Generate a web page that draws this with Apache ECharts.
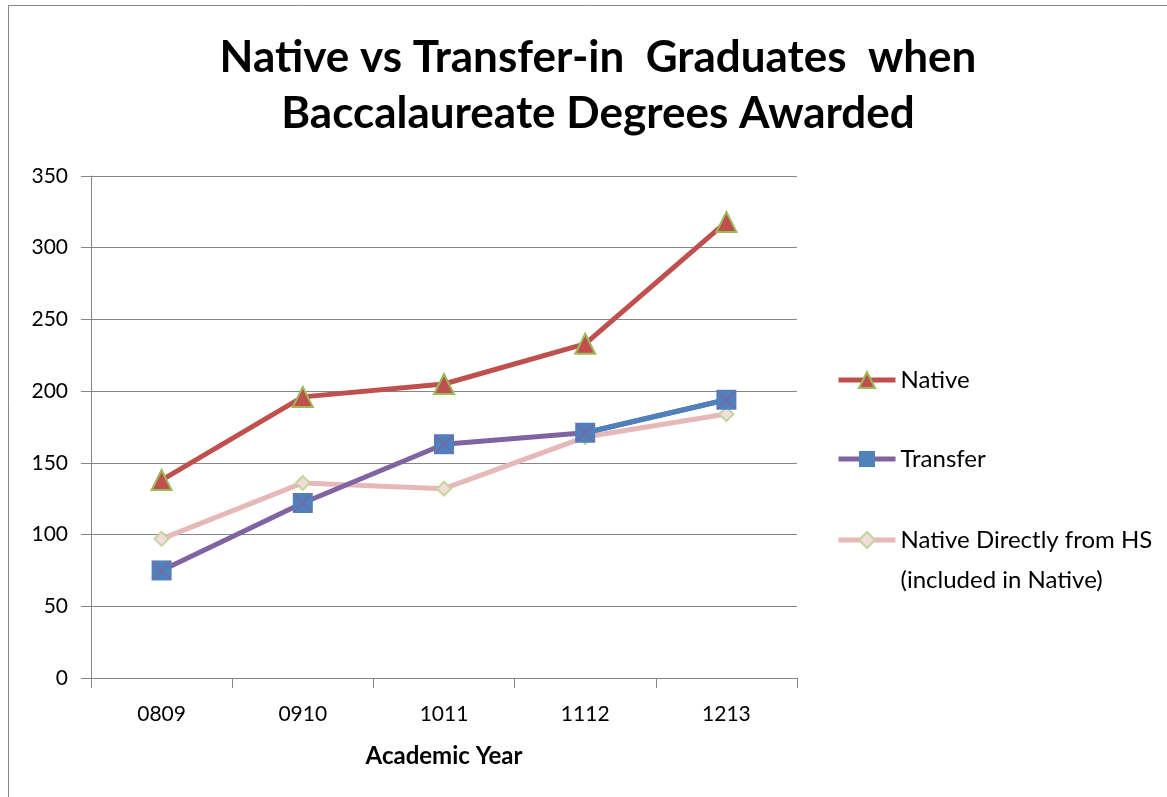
<!DOCTYPE html>
<html>
<head>
<meta charset="utf-8">
<script src="https://cdn.jsdelivr.net/npm/echarts@6/dist/echarts.min.js"></script>
<style>
  html, body { margin: 0; padding: 0; background: #fff; }
  #chart { width: 1167px; height: 797px; }
</style>
</head>
<body>
<div id="chart"></div>
<script>
var years = ['0809', '0910', '1011', '1112', '1213'];
var native = [138, 196, 205, 233, 318];
var transfer = [75, 122, 163, 171, 194];
var nativeHS = [97, 136, 132, 168, 184];
var yTicks = [0, 50, 100, 150, 200, 250, 300, 350];

var FONT = 'Lato, "Open Sans", sans-serif';
var HS_NAME = 'Native Directly from HS\n(included in Native)';
// last transfer segment is drawn blue in the original
var transferTail = transfer.map(function (v, i) { return i >= 3 ? v : '-'; });

var legendBase = {
    orient: 'vertical',
    left: 831,
    itemWidth: 57,
    itemHeight: 20,
    lineStyle: { width: 5 },
    textStyle: {
        fontFamily: FONT,
        fontSize: 24,
        color: '#000',
        lineHeight: 40
    }
};

var myChart = echarts.init(document.getElementById('chart'));
var option = {
    animation: false,
    title: {
        text: 'Native vs Transfer-in  Graduates  when\nBaccalaureate Degrees Awarded',
        left: 593,
        top: 25,
        textAlign: 'center',
        textStyle: {
            fontFamily: FONT,
            fontSize: 44,
            fontWeight: 'bold',
            color: '#000',
            lineHeight: 56
        }
    },
    graphic: [{
        type: 'rect',
        shape: { x: 8.5, y: 5.5, width: 1170, height: 800 },
        style: { fill: 'none', stroke: '#868686', lineWidth: 1 },
        silent: true
    }],
    legend: [
        echarts.util.merge({
            top: 355,
            itemGap: 39,
            data: ['Native', 'Transfer']
        }, legendBase),
        echarts.util.merge({
            top: 475,
            data: [HS_NAME],
            // empty first line keeps the icon level with the first text line
            formatter: function (name) { return ' \n' + name; }
        }, legendBase)
    ],
    grid: {
        left: 91,
        right: 370,
        top: 176,
        bottom: 119
    },
    xAxis: {
        type: 'category',
        data: years,
        boundaryGap: true,
        name: 'Academic Year',
        nameLocation: 'middle',
        nameGap: 66,
        nameTextStyle: { fontFamily: FONT, fontSize: 24, fontWeight: 'bold', color: '#000' },
        axisLine: { lineStyle: { color: '#868686', width: 1 } },
        axisTick: { show: true, alignWithLabel: false, length: 10, lineStyle: { color: '#868686' } },
        axisLabel: { fontFamily: FONT, fontSize: 21, color: '#000', margin: 26 }
    },
    yAxis: {
        type: 'value',
        min: yTicks[0],
        max: yTicks[yTicks.length - 1],
        interval: 50,
        axisLine: { show: true, lineStyle: { color: '#868686', width: 1 } },
        axisTick: { show: true, length: 10, lineStyle: { color: '#868686' } },
        axisLabel: { fontFamily: FONT, fontSize: 21, color: '#000', margin: 23 },
        splitLine: { lineStyle: { color: '#868686', width: 1 } }
    },
    series: [{
        name: HS_NAME,
        type: 'line',
        data: nativeHS,
        symbol: 'diamond',
        symbolSize: 14,
        lineStyle: { color: '#E6B9B8', width: 5 },
        itemStyle: { color: '#F2DCDB', borderColor: '#C3D69B', borderWidth: 2 },
        z: 2
    }, {
        name: 'Transfer',
        type: 'line',
        data: transfer,
        symbol: 'rect',
        symbolSize: 20,
        lineStyle: { color: '#8064A2', width: 5 },
        itemStyle: { color: '#4F81BD', borderWidth: 0 },
        z: 3
    }, {
        name: 'transferTail',
        type: 'line',
        data: transferTail,
        symbol: 'none',
        lineStyle: { color: '#4F81BD', width: 5 },
        z: 3
    }, {
        name: 'transferX',
        type: 'line',
        data: transfer,
        symbol: 'path://M0,0 L10,10 M10,0 L0,10',
        symbolSize: 18,
        lineStyle: { width: 0, opacity: 0 },
        itemStyle: { color: 'none', borderColor: '#8064A2', borderWidth: 1.5 },
        z: 4
    }, {
        name: 'Native',
        type: 'line',
        data: native,
        symbol: 'triangle',
        symbolSize: 20,
        lineStyle: { color: '#C0504D', width: 5 },
        itemStyle: { color: '#C0504D', borderColor: '#9BBB59', borderWidth: 2 },
        z: 5
    }]
};
myChart.setOption(option, true);
</script>
</body>
</html>
